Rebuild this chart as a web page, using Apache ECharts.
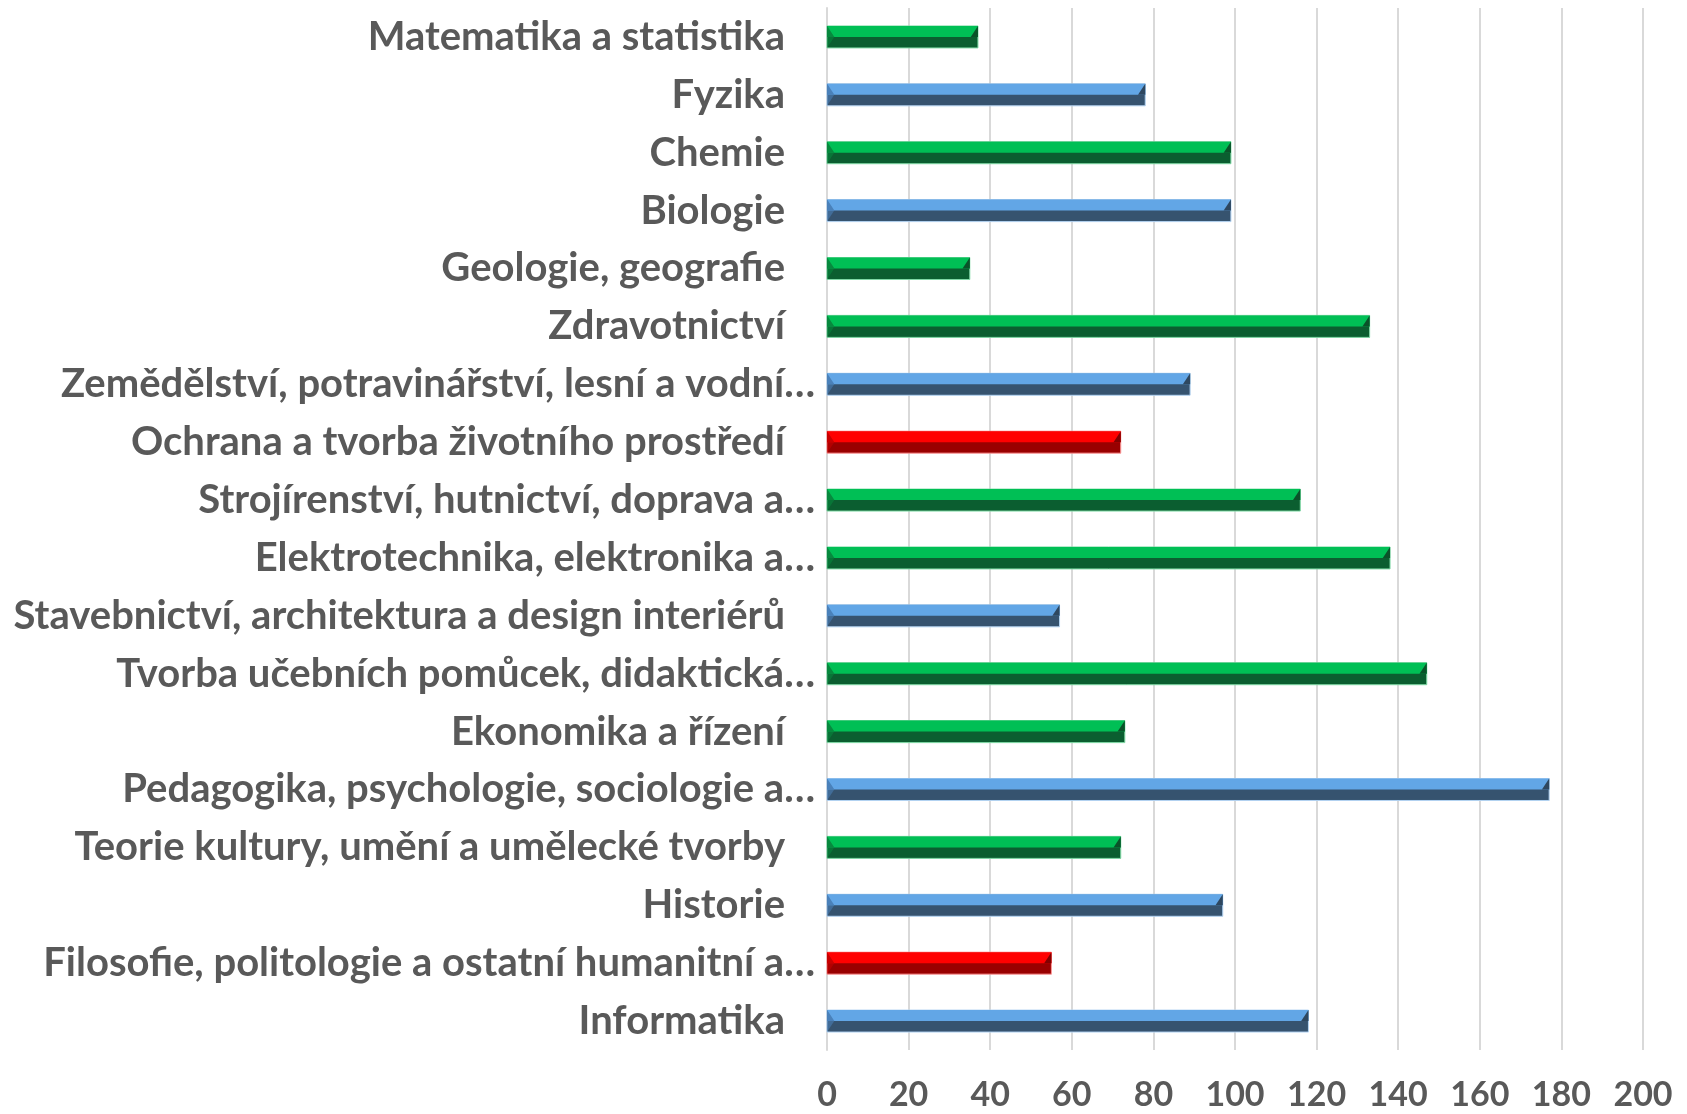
<!DOCTYPE html>
<html>
<head>
<meta charset="utf-8">
<script src="https://cdn.jsdelivr.net/npm/echarts@6/dist/echarts.min.js"></script>
<style>
  html, body { margin: 0; padding: 0; background: #fff; }
  #main { width: 1687px; height: 1114px; }
</style>
</head>
<body>
<div id="main"></div>
<script>
// obory, shora dolu
const categories = [
    'Matematika a statistika',
    'Fyzika',
    'Chemie',
    'Biologie',
    'Geologie, geografie',
    'Zdravotnictví',
    'Zemědělství, potravinářství, lesní a vodní…',
    'Ochrana a tvorba životního prostředí',
    'Strojírenství, hutnictví, doprava a…',
    'Elektrotechnika, elektronika a…',
    'Stavebnictví, architektura a design interiérů',
    'Tvorba učebních pomůcek, didaktická…',
    'Ekonomika a řízení',
    'Pedagogika, psychologie, sociologie a…',
    'Teorie kultury, umění a umělecké tvorby',
    'Historie',
    'Filosofie, politologie a ostatní humanitní a…',
    'Informatika'
];
const values = [37, 78, 99, 99, 35, 133, 89, 72, 116, 138, 57, 147, 73, 177, 72, 97, 55, 118];
// skupina barvy pro kazdy obor
const groups = ['G', 'B', 'G', 'B', 'G', 'G', 'B', 'R', 'G', 'G', 'B', 'G', 'G', 'B', 'G', 'B', 'R', 'B'];
const xMin = 0, xMax = 200, xStep = 20;

const palette = {
    G: { light: '#00BF55', dark: '#0B5E30', left: '#08893E', right: '#0A5229', edge: '#7FD9A5' },
    B: { light: '#62A6E6', dark: '#36536F', left: '#4A82BA', right: '#2E475F', edge: '#B3D3F2' },
    R: { light: '#FF0000', dark: '#990000', left: '#C80000', right: '#800000', edge: '#FF9A9A' }
};

let chartData = values.map((v, i) => [v, i, groups[i]]);

let myChart = echarts.init(document.getElementById('main'));

function renderBar(params, api) {
    let v = api.value(0);
    let idx = api.value(1);
    let c = palette[groups[idx]];
    let start = api.coord([0, idx]);
    let end = api.coord([v, idx]);
    let band = api.size([0, 1])[1];
    let h = band * 0.38;
    let x0 = start[0], x1 = end[0];
    let top = start[1] - h / 2, mid = start[1], bot = start[1] + h / 2;
    let b = h * 0.33; // bevel
    return {
        type: 'group',
        children: [
            { type: 'rect', shape: { x: x0, y: top, width: x1 - x0, height: h },
              style: { fill: c.dark, stroke: c.edge, lineWidth: 1 } },
            { type: 'rect', shape: { x: x0, y: top, width: x1 - x0, height: h / 2 },
              style: { fill: c.light } },
            { type: 'polygon', shape: { points: [[x0, top], [x0 + b, mid], [x0, mid]] },
              style: { fill: c.left } },
            { type: 'polygon', shape: { points: [[x1, top], [x1, mid], [x1 - b, mid]] },
              style: { fill: c.right } },
            { type: 'polygon', shape: { points: [[x0, top], [x0 + b, mid], [x0, bot]] },
              style: { fill: c.left, opacity: 0.55 } }
        ]
    };
}

myChart.setOption({
    backgroundColor: '#ffffff',
    animation: false,
    grid: {
        left: 827,
        right: 44,
        top: 8,
        bottom: 64,
        containLabel: false
    },
    xAxis: {
        type: 'value',
        min: xMin,
        max: xMax,
        interval: xStep,
        axisLine: { show: false },
        axisTick: { show: false },
        splitLine: {
            show: true,
            lineStyle: { color: '#D9D9D9', width: 2 }
        },
        axisLabel: {
            margin: 28,
            color: '#595959',
            fontFamily: 'Lato',
            fontWeight: 'bold',
            fontSize: 34
        }
    },
    yAxis: {
        type: 'category',
        inverse: true,
        data: categories,
        axisLine: { show: true, lineStyle: { color: '#D9D9D9', width: 2 } },
        axisTick: { show: false },
        axisLabel: {
            margin: 12,
            color: '#595959',
            fontFamily: 'Lato',
            fontWeight: 'bold',
            fontSize: 40,
            formatter: function (val) {
                // zkracene popisky konci az u osy
                return val.endsWith('…') ? '{t|' + val + '}' : '{n|' + val + '}';
            },
            rich: {
                t: { color: '#595959', fontFamily: 'Lato', fontWeight: 'bold', fontSize: 40 },
                n: { color: '#595959', fontFamily: 'Lato', fontWeight: 'bold', fontSize: 40, padding: [0, 30, 0, 0] }
            }
        }
    },
    series: [
        {
            type: 'custom',
            renderItem: renderBar,
            encode: { x: 0, y: 1 },
            data: chartData
        }
    ]
});
</script>
</body>
</html>
